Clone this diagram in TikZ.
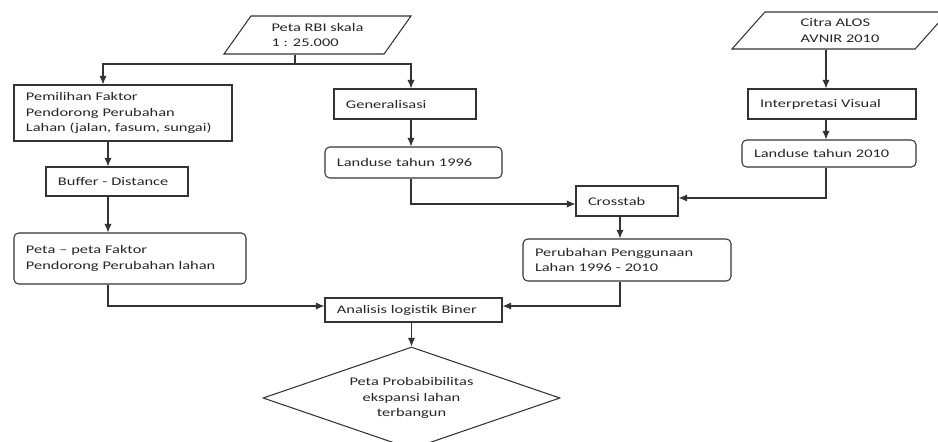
\documentclass[tikz,border=0pt]{standalone}
\usepackage{fontspec}
\setmainfont{Carlito}[FakeStretch=1.4]
\usetikzlibrary{shapes.geometric}
\usetikzlibrary{arrows.meta}

\begin{document}
\begin{tikzpicture}[x=0.03cm,y=-0.03cm,
	every node/.style={font=\fontsize{10}{13.2}\selectfont,text=black!85},
	proc/.style={draw=black!80,line width=0.9pt,align=left,inner xsep=0.36cm,inner ysep=2pt},
	soft/.style={proc,rounded corners=4pt},
	data/.style 2 args={draw=black!80,line width=0.9pt,shape=trapezium,trapezium left angle=#1,trapezium right angle=#2,trapezium stretches body,align=left,inner sep=2pt},
	arr/.style={draw=black!80,line width=0.9pt,->,>={Latex[length=2.6mm,width=2.2mm]}}]
	\useasboundingbox (0,0) rectangle (938,441);
	
	%INPUT DATA
	\node[data={46.5}{133.5},minimum width=5.61cm,minimum height=1.14cm] (rbi) at (317.5,35) {Peta RBI skala\\1 : 25.000};
	\node[data={40.7}{139.3},minimum width=6.48cm,minimum height=1.11cm] (citra) at (840,30.5) {Citra ALOS\\AVNIR 2010};
	
	%LEFT BRANCH
	\node[proc,text width=5.82cm,minimum height=1.68cm] (pilih) at (123,113) {Pemilihan Faktor\\Pendorong Perubahan\\Lahan (jalan, fasum, sungai)};
	\node[proc,text width=3.54cm,minimum height=0.87cm] (buffer) at (117,181.5) {Buffer - Distance};
	\node[soft,text width=6.24cm,minimum height=1.53cm] (faktor) at (130,258.5) {Peta -- peta Faktor\\Pendorong Perubahan lahan};
	
	%MIDDLE AND RIGHT BRANCH
	\node[proc,text width=3.54cm,minimum height=0.9cm] (gen) at (405,104) {Generalisasi};
	\node[soft,text width=4.59cm,minimum height=0.93cm] (lu96) at (413.5,162.5) {Landuse tahun 1996};
	\node[proc,text width=4.32cm,minimum height=0.9cm] (interp) at (832,104) {Interpretasi Visual};
	\node[soft,text width=4.5cm,minimum height=0.81cm] (lu10) at (829,153.5) {Landuse tahun 2010};
	\node[proc,text width=2.34cm,minimum height=0.9cm] (cross) at (627,201) {Crosstab};
	\node[soft,text width=5.52cm,minimum height=1.26cm] (ubah) at (627,260) {Perubahan Penggunaan\\Lahan 1996 - 2010};
	
	%RESULT
	\node[proc,text width=4.59cm,minimum height=0.72cm] (analisis) at (413.5,310) {Analisis logistik Biner};
	\node[draw=black!80,line width=0.9pt,shape=diamond,aspect=2.9,inner sep=0pt,minimum width=8.91cm,minimum height=3.06cm,align=center] (hasil) at (411.5,398) {Peta Probabibilitas\\ekspansi lahan\\terbangun};
	
	%CONNECTORS
	\coordinate (split) at (295,64);
	\coordinate (colL) at (103,0);
	\coordinate (colA) at (108,0);
	\coordinate (colB) at (411,0);
	\coordinate (colC) at (620,0);
	\coordinate (colD) at (826,0);
	\draw[draw=black!80,line width=0.9pt] (rbi.south -| split) -- (split);
	\draw[arr] (split) -| (pilih.north -| colL);
	\draw[arr] (split) -| (gen.north -| colB);
	\draw[arr] (pilih.south -| colA) -- (buffer.north -| colA);
	\draw[arr] (buffer.south -| colA) -- (faktor.north -| colA);
	\draw[arr] (faktor.south -| colA) |- ([yshift=0.12cm]analisis.west);
	\draw[arr] (gen.south -| colB) -- (lu96.north -| colB);
	\draw[arr] (lu96.south -| colB) |- ([yshift=-0.09cm]cross.west);
	\draw[arr] (citra.south -| colD) -- (interp.north -| colD);
	\draw[arr] (interp.south -| colD) -- (lu10.north -| colD);
	\draw[arr] (lu10.south -| colD) |- ([yshift=0.09cm]cross.east);
	\draw[arr] (cross.south -| colC) -- (ubah.north -| colC);
	\draw[arr] (ubah.south -| colC) |- ([yshift=0.12cm]analisis.east);
	\draw[arr] (analisis.south -| hasil.north) -- (hasil.north);
\end{tikzpicture}
\end{document}
